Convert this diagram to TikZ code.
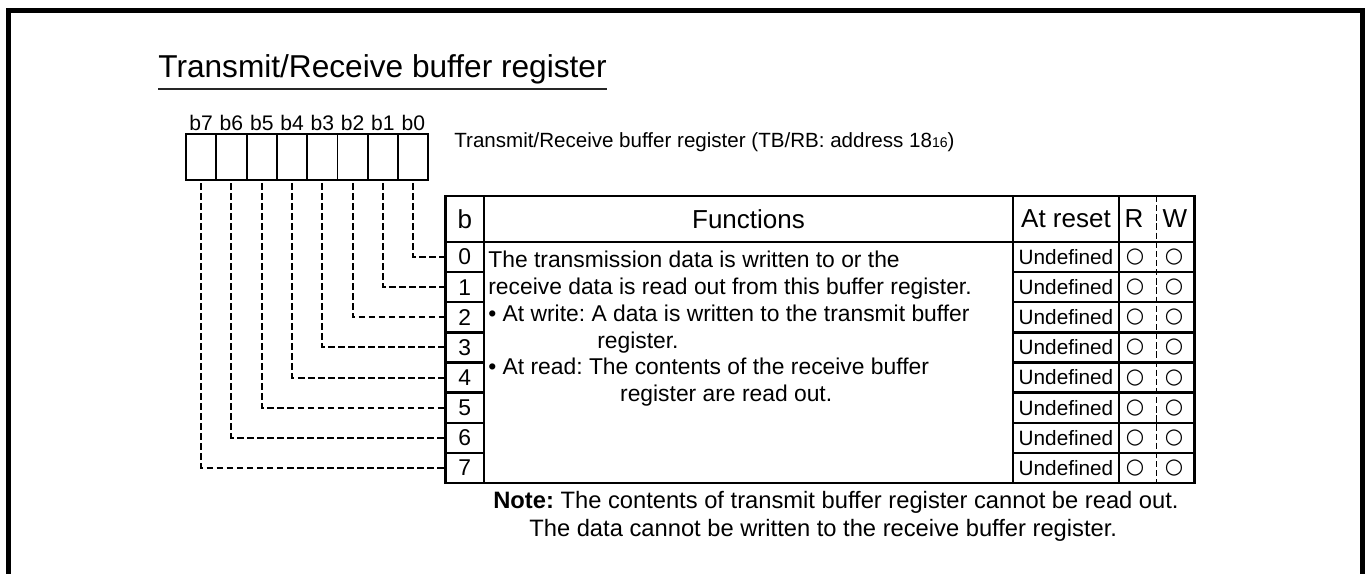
\documentclass[tikz,border=0pt]{standalone}
\usepackage{fontspec}
\setmainfont{Liberation Sans}
\newfontfamily\markfont{DejaVu Sans}
\usetikzlibrary{calc}
\frenchspacing

\begin{document}
\begin{tikzpicture}[
    x=0.2mm, y=-0.2mm,
    frame/.style={draw=black, line width=2.8pt},
    heading/.style={inner sep=0pt, font=\fontsize{18}{21}\selectfont},
    rule/.style={draw=black!85, line width=1.1pt},
    caption/.style={inner sep=0pt, font=\fontsize{11.7}{13}\selectfont},
    bitcell/.style={
      rectangle, draw, line width=1.1pt, inner sep=0pt, outer sep=0pt,
      minimum width=6.06mm, minimum height=9.2mm
    },
    bitlabel/.style={inner sep=0pt, font=\fontsize{12}{13}\selectfont},
    cell/.style={
      rectangle, draw, line width=1.3pt, inner sep=0pt, outer sep=0pt,
      minimum height=6.025mm, font=\fontsize{13}{15}\selectfont
    },
    headcell/.style={cell, minimum height=9.2mm, font=\fontsize{14.8}{17}\selectfont},
    fntext/.style={inner sep=0pt, align=left, font=\fontsize{13}{15.3}\selectfont},
    okmark/.style={inner sep=0pt, font=\markfont\fontsize{12}{14}\selectfont},
    notetext/.style={inner sep=0pt, font=\fontsize{13.5}{15}\selectfont},
    bitline/.style={draw=black, line width=1.1pt, dash pattern=on 3.8pt off 1.9pt},
    rwsep/.style={draw=black, line width=0.75pt, dash pattern=on 3.6pt off 1.6pt}
  ]
  \useasboundingbox (0,0) rectangle (1366,573);
  \draw[frame] (8.5,600) -- (8.5,10.5) -- (1362.5,10.5) -- (1362.5,600);

  \node[heading, anchor=base west] (title) at (158,77) {Transmit/Receive buffer register};
  \draw[rule] ($(title.base west)+(0,12)$) -- ($(title.base east)+(0,12)$);
  \node[caption, anchor=base west] (regname) at (454,147.7)
    {Transmit/Receive buffer register (TB/RB: address 18{\fontsize{8}{8}\selectfont 16})};

  % register bits
  \foreach \k in {0,...,7}{
    \pgfmathsetmacro{\bx}{413.25-30.3*\k}
    \node[bitcell] (b\k) at (\bx,157) {};
    \node[bitlabel, anchor=base] (lb\k) at (\bx,130) {b\k};
  }

  % table header
  \node[headcell, minimum width=7.7mm] (hb) at (464.75,219) {b};
  \node[headcell, minimum width=105.8mm] (hfn) at (748.5,219) {Functions};
  \node[headcell, minimum width=21.2mm] (hrst) at (1066,219) {At reset};
  \node[headcell, minimum width=15.1mm] (hrw) at (1156.75,219) {};
  \node[inner sep=0pt, font=\fontsize{14.8}{17}\selectfont] (hr) at (1134,219) {R};
  \node[inner sep=0pt, font=\fontsize{14.8}{17}\selectfont] (hw) at (1175,219) {W};

  % bit rows
  \foreach \k in {0,...,7}{
    \pgfmathsetmacro{\ry}{257.06+30.125*\k}
    \node[cell, minimum width=7.7mm] (r\k) at (464.75,\ry) {\k};
    \node[cell, minimum width=21.2mm, font=\fontsize{11.8}{13}\selectfont] (u\k) at (1066,\ry) {Undefined};
    \node[cell, minimum width=15.1mm] (rw\k) at (1156.75,\ry) {};
    \node[okmark] (rd\k) at (1135,\ry) {○};
    \node[okmark] (wr\k) at (1174,\ry) {○};
    \draw[bitline, shorten <=0.6mm] (b\k.south) |- (r\k.west);
  }

  \node[cell, minimum width=105.8mm, minimum height=48.2mm] (fnbody) at (748.5,362.5) {};
  \node[fntext, anchor=north west] (fntxt) at (488,250.5)
    {The transmission data is written to or the\\
     receive data is read out from this buffer register.\\
     \textbullet\ At write: A data is written to the transmit buffer\\
     \hspace*{62pt}register.\\
     \textbullet\ At read: The contents of the receive buffer\\
     \hspace*{75pt}register are read out.};
  \draw[rwsep] (hrw.north) -- (rw7.south);

  \node[notetext, anchor=base west] (note1) at (493,508)
    {\textbf{Note:} The contents of transmit buffer register cannot be read out.};
  \node[notetext, anchor=base west] (note2) at (529,536)
    {The data cannot be written to the receive buffer register.};
\end{tikzpicture}
\end{document}
